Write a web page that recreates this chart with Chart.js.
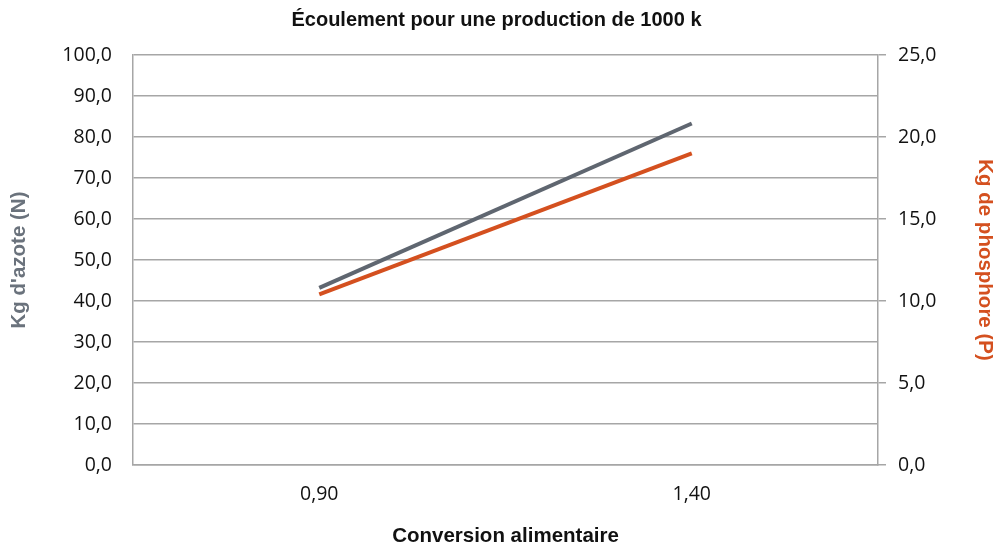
<!DOCTYPE html>
<html>
<head>
<meta charset="utf-8">
<script src="https://cdn.jsdelivr.net/npm/chart.js@4/dist/chart.umd.min.js"></script>
<style>
  body { margin: 0; background: #fff; }
</style>
</head>
<body>
<canvas id="chart" width="993" height="547"></canvas>
<script>
'use strict';

// données
const conversions = ['0,90', '1,40'];
const azote = [43.2, 83.3];       // Kg d'azote (N), axe gauche
const phosphore = [10.4, 19.0];   // Kg de phosphore (P), axe droit

const GRIS = '#5f6670';
const ORANGE = '#d4501f';
const LIGNE = '#a6a6a6';

const fmt = v => Number(v).toFixed(1).replace('.', ',');
const tickFont = { family: 'Open Sans', size: 19.5 };
const titleFont = { family: 'Liberation Sans', size: 20.5, weight: 'bold' };

const canvasElem = document.getElementById('chart');

new Chart(canvasElem.getContext('2d'), {
    type: 'line',
    data: {
        labels: conversions,
        datasets: [
            {
                label: "Kg d'azote (N)",
                data: azote,
                yAxisID: 'yN',
                borderColor: GRIS,
                borderWidth: 4,
                pointRadius: 0,
                tension: 0
            },
            {
                label: 'Kg de phosphore (P)',
                data: phosphore,
                yAxisID: 'yP',
                borderColor: ORANGE,
                borderWidth: 4,
                pointRadius: 0,
                tension: 0
            }
        ]
    },
    options: {
        responsive: false,
        animation: false,
        layout: { padding: 0 },
        plugins: {
            legend: { display: false },
            tooltip: { enabled: false },
            title: {
                display: true,
                text: 'Écoulement pour une production de 1000 k',
                color: '#111',
                font: { family: 'Liberation Sans', size: 20, weight: 'bold' },
                padding: { top: 8, bottom: 23 }
            }
        },
        scales: {
            x: {
                offset: true,
                grid: { display: false, drawTicks: false },
                border: { display: true, color: LIGNE, width: 1.5 },
                ticks: {
                    color: '#111',
                    padding: 18,
                    font: tickFont
                },
                title: {
                    display: true,
                    text: 'Conversion alimentaire',
                    color: '#111',
                    font: titleFont,
                    padding: { top: 0, bottom: -2 }
                },
                afterFit: s => { s.height = 82; }
            },
            yN: {
                position: 'left',
                min: 0,
                max: 100,
                ticks: {
                    stepSize: 10,
                    callback: fmt,
                    color: '#111',
                    padding: 21,
                    font: tickFont
                },
                grid: { color: LIGNE, lineWidth: 1.5, drawTicks: false },
                border: { display: true, color: LIGNE, width: 1.5 },
                title: {
                    display: true,
                    text: "Kg d'azote (N)",
                    color: '#6a727c',
                    font: titleFont,
                    padding: { top: 7, bottom: 0 }
                },
                afterFit: s => { s.width = 133; }
            },
            yP: {
                position: 'right',
                min: 0,
                max: 25,
                ticks: {
                    stepSize: 5,
                    callback: fmt,
                    color: '#111',
                    padding: 12,
                    font: tickFont
                },
                grid: { drawOnChartArea: false, color: LIGNE, lineWidth: 1.5, tickLength: 8 },
                border: { display: true, color: LIGNE, width: 1.5 },
                title: {
                    display: true,
                    text: 'Kg de phosphore (P)',
                    color: ORANGE,
                    font: titleFont,
                    padding: { top: -4, bottom: 0 }
                },
                afterFit: s => { s.width = 115; }
            }
        }
    }
});
</script>
</body>
</html>
